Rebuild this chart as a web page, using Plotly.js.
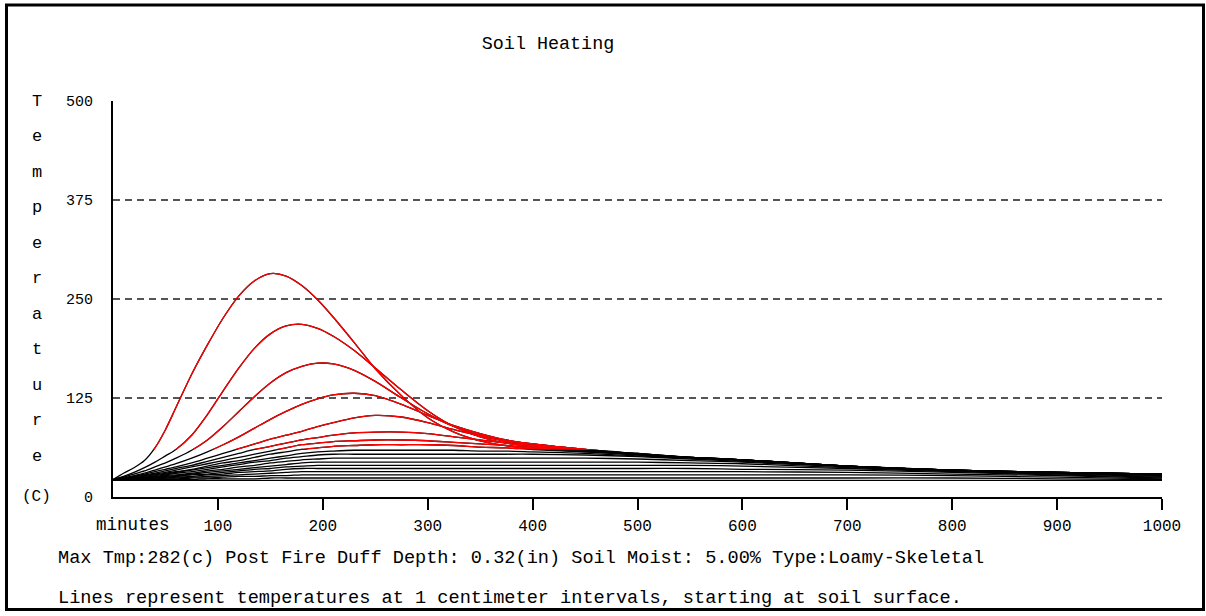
<!DOCTYPE html>
<html>
<head>
<meta charset="utf-8">
<script src="https://cdn.plot.ly/plotly-3.0.1.min.js"></script>
<style>html,body{margin:0;padding:0;background:#fff;}#chart{width:1206px;height:616px;}</style>
</head>
<body>
<div id="chart"></div>
<script>
// ---- data ----
const chartTitle = "Soil Heating";
const yTitleLetters = ["T","e","m","p","e","r","a","t","u","r","e"];
const yUnitLabel = "(C)";
const xUnitLabel = "minutes";
const infoLine = "Max Tmp:282(c) Post Fire Duff Depth: 0.32(in) Soil Moist: 5.00% Type:Loamy-Skeletal";
const noteLine = "Lines represent temperatures at 1 centimeter intervals, starting at soil surface.";
const xTickVals = [100,200,300,400,500,600,700,800,900,1000];
const xTickText = ["100","200","300","400","500","600","700","800","900","1000"];
const yTickVals = [0,125,250,375,500];
const yTickText = ["0","125","250","375","500"];
const hotThreshold = 60;

const minutes = [0,10,20,30,40,50,60,75,90,105,120,135,150,165,180,195,210,230,250,275,300,325,350,375,400,450,500,550,600,700,800,900,1000];

const temp0cm  = [22,30,37,46,62,85,113,155,192,226,254,273,282,279,267,249,227,195,162,128,100,82,71,65,61,57,54,50,47,39,34,31,29];
const temp1cm  = [22,26,31,37,44,52,60,78,104,134,163,188,206,216,218,213,203,185,163,135,109,89,76,68,63,58,54,50,47,39,34,31,29];
const temp2cm  = [22,25,29,33,38,43,49,59,72,89,108,127,144,157,165,169,168,160,146,125,105,89,78,70,65,59,54,50,47,39,34,31,29];
const temp3cm  = [22,24,27,30,34,38,42,49,57,66,76,87,98,108,117,124,129,131,128,117,103,90,80,72,67,60,55,50,47,39,34,31,29];
const temp4cm  = [22,24,26,29,32,35,38,43,49,55,61,67,73,78,83,89,94,100,103,101,94,85,77,71,67,60,55,50,47,39,34,31,29];
const temp5cm  = [22,23,25,28,30,33,36,40,45,50,55,60,64,68,72,75,78,81,82,82,80,76,72,68,65,59,55,50,47,39,34,31,29];
const temp6cm  = [22,23,25,27,29,31,34,38,42,46,50,54,58,62,66,68,70,71,72,72,71,69,67,65,62,58,54,50,47,39,34,31,29];
const temp7cm  = [22,23,24,26,28,30,32,35,39,43,46,50,54,57,60,62,64,65,66,66,66,65,63,62,60,57,53,50,47,39,34,31,29];
const temp8cm  = [22,23,24,25,27,29,31,34,37,40,43,46,49,52,55,57,58,59,59,59,59,59,58,58,57,55,52,49,46,39,34,31,29];
const temp9cm  = [22,23,24,25,26,28,30,32,35,38,41,44,46,49,51,53,54,54,54,54,54,54,54,54,54,53,51,48,45,39,34,30,28];
const temp10cm = [22,22,23,24,25,27,28,30,33,35,38,40,43,45,47,48,49,49,49,49,49,49,49,49,49,49,48,46,44,38,33,30,28];
const temp11cm = [22,22,23,24,25,26,27,29,31,33,35,37,39,41,43,44,44,44,44,44,44,44,44,44,44,44,44,43,42,37,33,30,27];
const temp12cm = [22,22,23,23,24,25,26,28,29,31,33,35,36,38,39,40,40,40,40,40,40,40,40,40,40,40,40,40,39,36,32,29,26];
const temp13cm = [22,22,22,23,24,24,25,26,28,29,31,32,33,35,36,36,36,36,36,36,36,36,36,36,36,36,36,36,35,34,31,28,25];
const temp14cm = [22,22,22,23,23,24,24,25,26,27,28,29,30,31,32,32,32,32,32,32,32,32,32,32,32,32,32,32,32,31,29,27,24];
const temp15cm = [22,22,22,22,23,23,23,24,24,25,26,26,27,27,28,28,28,28,28,28,28,28,28,28,28,28,28,28,28,28,27,25,23];
const temp16cm = [22,22,22,22,22,22,22,22,23,23,23,23,24,24,24,24,24,24,24,24,24,24,24,24,24,24,24,24,24,24,24,23,22];
const temp17cm = [21,21,21,21,21,21,21,21,21,21,21,21,21,21,21,21,21,21,21,21,21,21,21,21,21,21,21,21,21,21,21,21,21];

const depthSeries = [temp17cm,temp16cm,temp15cm,temp14cm,temp13cm,temp12cm,temp11cm,temp10cm,temp9cm,
                     temp8cm,temp7cm,temp6cm,temp5cm,temp4cm,temp3cm,temp2cm,temp1cm,temp0cm];

// ---- layout helpers (pixel -> paper) ----
const W = 1206, H = 616;
const L = 113, R = 1162, T = 101, B = 497;
const px = x => (x - L) / (R - L);
const py = y => (B - y) / (B - T);
const FONT = "Liberation Mono, Courier New, monospace";

const traces = [];
depthSeries.forEach(s => {
  traces.push({x: minutes, y: s, type: 'scatter', mode: 'lines', xaxis: 'x', yaxis: 'y',
    line: {color: '#000000', width: 1.3, shape: 'spline', smoothing: 0.8}, hoverinfo: 'skip', showlegend: false});
});
depthSeries.forEach(s => {
  traces.push({x: minutes, y: s, type: 'scatter', mode: 'lines', xaxis: 'x', yaxis: 'y2',
    line: {color: '#ff0000', width: 1.3, shape: 'spline', smoothing: 0.8}, hoverinfo: 'skip', showlegend: false});
});

const annotations = [];
yTitleLetters.forEach((ch, i) => {
  annotations.push({text: ch, xref: 'paper', yref: 'paper', x: px(37), y: py(101 + i * 35.5),
    xanchor: 'center', yanchor: 'middle', showarrow: false, font: {family: FONT, size: 17, color: '#000'}});
});
annotations.push({text: yUnitLabel, xref: 'paper', yref: 'paper', x: px(36), y: py(497),
  xanchor: 'center', yanchor: 'middle', showarrow: false, font: {family: FONT, size: 16, color: '#000'}});
annotations.push({text: xUnitLabel, xref: 'paper', yref: 'paper', x: px(94), y: py(525),
  xanchor: 'left', yanchor: 'middle', showarrow: false, font: {family: FONT, size: 17.5, color: '#000'}});
annotations.push({text: infoLine, xref: 'paper', yref: 'paper', x: px(56), y: py(558),
  xanchor: 'left', yanchor: 'middle', showarrow: false, font: {family: FONT, size: 18.6, color: '#000'}});
annotations.push({text: noteLine, xref: 'paper', yref: 'paper', x: px(56), y: py(598),
  xanchor: 'left', yanchor: 'middle', showarrow: false, font: {family: FONT, size: 18.6, color: '#000'}});

const layout = {
  width: W, height: H,
  margin: {l: L, r: W - R, t: T, b: H - B, pad: 0},
  paper_bgcolor: '#ffffff', plot_bgcolor: 'rgba(0,0,0,0)',
  showlegend: false,
  title: {text: chartTitle, x: 548 / W, xref: 'container', xanchor: 'center',
          y: 1 - 43 / H, yref: 'container', yanchor: 'middle',
          font: {family: FONT, size: 18.4, color: '#000'}},
  xaxis: {range: [0, 1000], tickvals: xTickVals, ticktext: xTickText,
          showline: true, linecolor: '#000', linewidth: 2, mirror: false,
          ticks: 'outside', ticklen: 11, tickwidth: 2, tickcolor: '#000',
          showgrid: false, zeroline: false, ticklabelstandoff: 2,
          tickfont: {family: FONT, size: 16, color: '#000'}, fixedrange: true},
  yaxis: {range: [0, 500], tickvals: yTickVals, ticktext: yTickText, domain: [0, 1],
          showline: true, linecolor: '#000', linewidth: 2, ticks: '',
          showgrid: true, gridcolor: '#555555', gridwidth: 1.5, griddash: '7px,5px',
          zeroline: false, ticklabelstandoff: 15,
          tickfont: {family: FONT, size: 15, color: '#000'}, fixedrange: true},
  yaxis2: {range: [hotThreshold, 500], domain: [hotThreshold / 500, 1], anchor: 'x',
           visible: false, showgrid: false, zeroline: false, fixedrange: true},
  annotations: annotations,
  shapes: [{type: 'rect', xref: 'paper', yref: 'paper',
            x0: px(6.5), x1: px(1203.5), y0: py(609.5), y1: py(5),
            line: {color: '#000', width: 3}, fillcolor: 'rgba(0,0,0,0)', layer: 'below'}]
};

Plotly.newPlot('chart', traces, layout, {staticPlot: true, displayModeBar: false});
</script>
</body>
</html>
